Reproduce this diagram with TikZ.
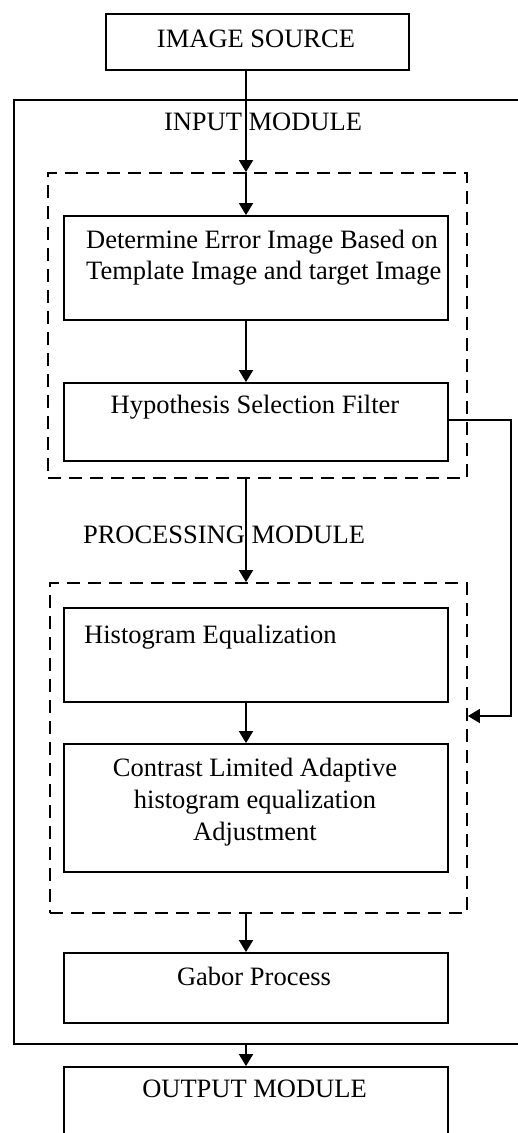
\documentclass[tikz,border=0pt]{standalone}
\usepackage{fontspec}
\setmainfont{Liberation Serif}
\usetikzlibrary{arrows.meta}
\begin{document}
\begin{tikzpicture}[x=1pt,y=-1pt,
  every node/.style={font=\fontsize{26.5}{31}\selectfont},
  box/.style={draw,line width=1.8pt,inner sep=0pt,minimum width=384pt},
  dashbox/.style={draw,line width=1.8pt,inner sep=0pt,dash pattern=on 13pt off 8pt},
  lbl/.style={inner sep=0pt,anchor=base},
  flow/.style={line width=1.8pt,-{Triangle[width=14pt,length=12pt]}}
]
\useasboundingbox (0,0) rectangle (517,1133);

% column of the main arrows
\coordinate (ax) at (246,0);

% source
\node[box,minimum width=303pt,minimum height=56pt] (src) at (257.5,42) {};
\node[lbl] (srct) at (256,47) {IMAGE SOURCE};

% outer module frame (open to the right)
\node[draw,line width=1.8pt,inner sep=0pt,minimum width=530pt,minimum height=944pt,anchor=north west] (outer) at (13,99) {};
\node[lbl] (inlbl) at (263,130) {INPUT MODULE};

% input group
\node[dashbox,minimum width=419pt,minimum height=305pt] (grpA) at (257.5,325.5) {};
\node[box,minimum height=104pt] (err) at (256,268) {};
\node[lbl,anchor=base west,align=left] (errt) at (86,279) {Determine Error Image Based on\\Template Image and target Image};
\node[box,minimum height=78pt] (hyp) at (256,422) {};
\node[lbl] (hypt) at (255,413) {Hypothesis Selection Filter};

% processing group
\node[lbl] (prlbl) at (224,543) {PROCESSING MODULE};
\node[dashbox,minimum width=417pt,minimum height=330pt] (grpB) at (258.5,748) {};
\node[box,minimum height=94pt] (hist) at (256,655) {};
\node[lbl,anchor=base west] (histt) at (84,643) {Histogram Equalization};
\node[box,minimum height=128pt] (clahe) at (256,808) {};
\node[lbl,align=center,font=\fontsize{26.5}{32}\selectfont] (clahet) at (255,840) {Contrast Limited Adaptive\\histogram equalization\\Adjustment};
\node[box,minimum height=70pt] (gab) at (256,988) {};
\node[lbl] (gabt) at (254,985) {Gabor Process};

% output
\node[box,minimum height=93pt] (out) at (256,1113.5) {};
\node[lbl] (outt) at (254.5,1097) {OUTPUT MODULE};

% connectors
\draw[flow] (src.south -| ax) -- (grpA.north -| ax);
\draw[flow] (grpA.north -| ax) -- (err.north -| ax);
\draw[flow] (err.south -| ax) -- (hyp.north -| ax);
\draw[flow] (grpA.south -| ax) -- (grpB.north -| ax);
\draw[flow] (hist.south -| ax) -- (clahe.north -| ax);
\draw[flow] (grpB.south -| ax) -- (gab.north -| ax);
\draw[flow] (outer.south -| ax) -- (out.north -| ax);

% feedback from the filter into the processing group
\coordinate (fbA) at (511,420);
\coordinate (fbB) at (511,716);
\draw[flow] (hyp.east |- fbA) -- (fbA) -- (fbB) -- (grpB.east |- fbB);
\end{tikzpicture}
\end{document}
